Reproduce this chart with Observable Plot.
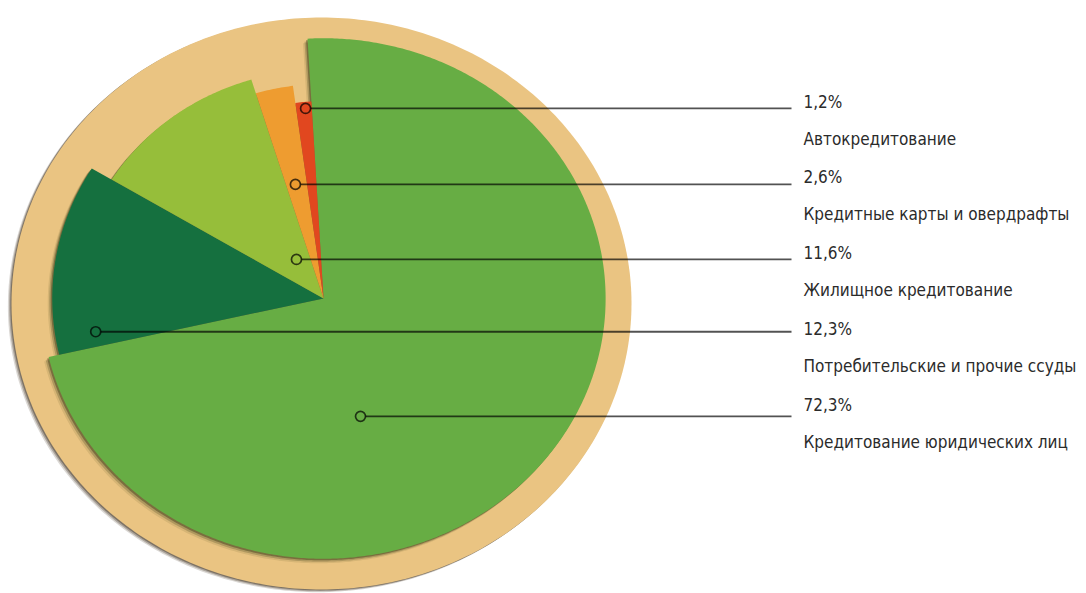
<!DOCTYPE html>
<html><head><meta charset="utf-8">
<script src="https://cdn.jsdelivr.net/npm/d3@7"></script>
<script src="https://cdn.jsdelivr.net/npm/@observablehq/plot@0.6"></script>
<style>body{margin:0;background:#fff;overflow:hidden} #chart svg{display:block}</style>
</head><body><div id="chart"></div>
<script>
// ---- data ----
const categories = ["Автокредитование", "Кредитные карты и овердрафты", "Жилищное кредитование", "Потребительские и прочие ссуды", "Кредитование юридических лиц"];
const shares = [1.2, 2.6, 11.6, 12.3, 72.3];
const shareLabels = ["1,2%", "2,6%", "11,6%", "12,3%", "72,3%"];
// ---- styles ----
const colors = ["#E1471F", "#EE9C30", "#96BE3A", "#15703F", "#67AD44"];
const radii = [0.69, 0.75, 0.80, 0.875, 0.91];       // slice radius, plate = 1
const markerT = [0.4, 0.56, 0.375, 0.91, 0.358];      // position along slice angle (0..1)
const markerR = [0.667, 0.409, 0.162, 0.744, 0.429];  // marker radius fraction
const plateColor = "#EAC482";
const plateShadow = "#4a3c2a";
const sliceShadow = "#262d0c";
const shadowSteps = [{d: 1.5, o: 0.38}, {d: 3, o: 0.22}, {d: 4.5, o: 0.1}];

// ---- layout ----
const W = 1086, H = 593;
const plateCx = 321, plateCy = 303, plateRx = 310, plateRy = 286;
const toU = px => (px - plateCx) / plateRx;
const toV = py => (plateCy - py) / plateRy;
const pie = {u: 0.0065, v: 0.0175};
const startDeg = 3.25;          // first slice begins slightly left of 12 o'clock, counterclockwise
const lineEndU = toU(791);
const textU = toU(803);
const rowTop = 107, rowStep = 75.8, subOffset = 37;
const font = "'DejaVu Sans Condensed', 'DejaVu Sans', sans-serif";

const pt = (deg, r) => {
  const a = deg * Math.PI / 180;
  return {x: pie.u - r * Math.sin(a), y: pie.v + r * Math.cos(a)};
};

// slices
let cum = 0;
const slices = shares.map((s, i) => {
  const a0 = startDeg + cum * 3.6;
  const a1 = a0 + s * 3.6;
  cum += s;
  const pts = [{x: pie.u, y: pie.v}];
  const n = Math.max(2, Math.ceil((a1 - a0) / 0.5));
  for (let k = 0; k <= n; k++) pts.push(pt(a0 + (a1 - a0) * k / n, radii[i]));
  pts.push({x: pie.u, y: pie.v});
  const m = pt(a0 + (a1 - a0) * markerT[i], markerR[i]);
  return {i, a0, a1, pts, marker: {...m, color: colors[i], label: shareLabels[i]}};
});

const plate = d3.range(0, 361, 1).map(d => ({x: Math.sin(d * Math.PI / 180), y: Math.cos(d * Math.PI / 180)}));
const markers = slices.map(s => s.marker);
const pctRows = shareLabels.map((t, i) => ({x: textU, y: toV(rowTop + i * rowStep), text: t}));
const catRows = categories.map((t, i) => ({x: textU, y: toV(rowTop + i * rowStep + subOffset), text: t}));

const drawOrder = [4, 3, 2, 1, 0];
const marks = [
  ...shadowSteps.map(s => Plot.line(plate, {x: "x", y: "y", fill: plateShadow, fillOpacity: s.o + 0.1, stroke: "none", dx: -s.d * 0.8, dy: s.d * 0.6})),
  Plot.line(plate, {x: "x", y: "y", fill: plateColor, stroke: "none"}),
  ...drawOrder.flatMap(i => shadowSteps.map(s => Plot.line(slices[i].pts, {x: "x", y: "y", fill: sliceShadow, fillOpacity: s.o, stroke: "none", dx: -s.d, dy: s.d}))),
  ...drawOrder.map(i => Plot.line(slices[i].pts, {x: "x", y: "y", fill: colors[i], stroke: "none"})),
  Plot.link(markers, {x1: "x", y1: "y", x2: () => lineEndU, y2: "y", stroke: "#000", strokeOpacity: 0.68, strokeWidth: 1.8}),
  Plot.dot(markers, {x: "x", y: "y", r: 5, fill: "color", stroke: "#000", strokeOpacity: 0.7, strokeWidth: 1.7}),
  Plot.text(pctRows, {x: "x", y: "y", text: "text", textAnchor: "start", lineAnchor: "bottom", fontSize: 17, fill: "#2b2b2b"}),
  Plot.text(catRows, {x: "x", y: "y", text: "text", textAnchor: "start", lineAnchor: "bottom", fontSize: 17, fill: "#2b2b2b"})
];

const svg = Plot.plot({
  width: W, height: H,
  margin: 0,
  style: {fontFamily: font, background: "#fff"},
  x: {domain: [toU(0), toU(W)], axis: null},
  y: {domain: [toV(H), toV(0)], axis: null},
  color: {type: "identity"},
  marks
});

document.getElementById("chart").appendChild(svg);
</script>
</body></html>
